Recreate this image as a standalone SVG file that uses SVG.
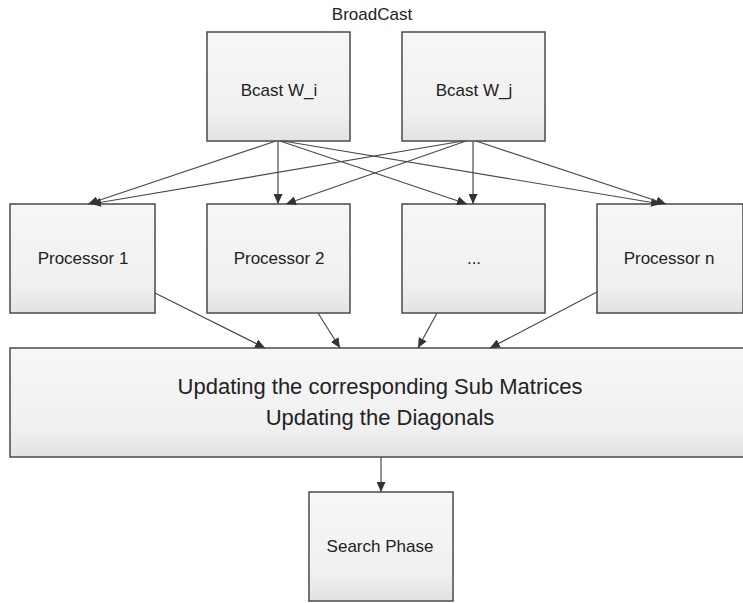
<svg xmlns="http://www.w3.org/2000/svg" width="743" height="603" viewBox="0 0 743 603">
<style>
.box{fill:url(#g);stroke:#4a4a4a;stroke-width:1.5}
.t{font-family:"Liberation Sans",Arial,sans-serif;font-size:17px;fill:#222;text-anchor:middle}
.big{font-size:22px}
.c{stroke:#4a4a4a;stroke-width:1.2;fill:none;marker-end:url(#a)}
</style>
<defs>
<linearGradient id="g" x1="0" y1="0" x2="0" y2="1">
<stop offset="0" stop-color="#f7f7f7"/>
<stop offset="0.75" stop-color="#f0f0f0"/>
<stop offset="1" stop-color="#e2e2e2"/>
</linearGradient>
<marker id="a" markerUnits="userSpaceOnUse" markerWidth="11" markerHeight="9" refX="10" refY="4.5" orient="auto">
<path d="M0,0 L10,4.5 L0,9 z" fill="#333"/>
</marker>
</defs>
<rect width="743" height="603" fill="#fff"/>
<text class="t" x="372" y="20">BroadCast</text>
<g id="bcast_wi"><rect class="box" x="207" y="32" width="143" height="109"/><text class="t" x="279" y="96">Bcast W_i</text></g>
<g id="bcast_wj"><rect class="box" x="402" y="32" width="143" height="109"/><text class="t" x="474" y="96">Bcast W_j</text></g>
<g id="p1"><rect class="box" x="10" y="204" width="145" height="109"/><text class="t" x="83" y="264">Processor 1</text></g>
<g id="p2"><rect class="box" x="207" y="204" width="143" height="109"/><text class="t" x="279" y="264">Processor 2</text></g>
<g id="pdots"><rect class="box" x="402" y="204" width="143" height="109"/><text class="t" x="474" y="264">...</text></g>
<g id="pn"><rect class="box" x="597" y="204" width="146" height="109"/><text class="t" x="669" y="264">Processor n</text></g>
<g id="update"><rect class="box" x="10" y="348" width="745" height="109"/><text class="t big" x="380" y="394">Updating the corresponding Sub Matrices</text><text class="t big" x="380" y="425">Updating the Diagonals</text></g>
<g id="search"><rect class="box" x="309" y="492" width="144" height="109"/><text class="t" x="380" y="552">Search Phase</text></g>
<g id="connectors">
<line class="c" x1="276" y1="141" x2="88" y2="204"/>
<line class="c" x1="278" y1="141" x2="278" y2="204"/>
<line class="c" x1="280" y1="141" x2="467" y2="204"/>
<line class="c" x1="283" y1="141" x2="661" y2="204"/>
<line class="c" x1="463" y1="141" x2="91" y2="204"/>
<line class="c" x1="466" y1="141" x2="286" y2="204"/>
<line class="c" x1="473" y1="141" x2="473" y2="204"/>
<line class="c" x1="476" y1="141" x2="666" y2="204"/>
<line class="c" x1="155" y1="293" x2="265" y2="348"/>
<line class="c" x1="318" y1="313" x2="340" y2="348"/>
<line class="c" x1="437" y1="313" x2="418" y2="348"/>
<line class="c" x1="597" y1="292" x2="490" y2="348"/>
<line class="c" x1="381" y1="457" x2="381" y2="492"/>
</g>
</svg>
